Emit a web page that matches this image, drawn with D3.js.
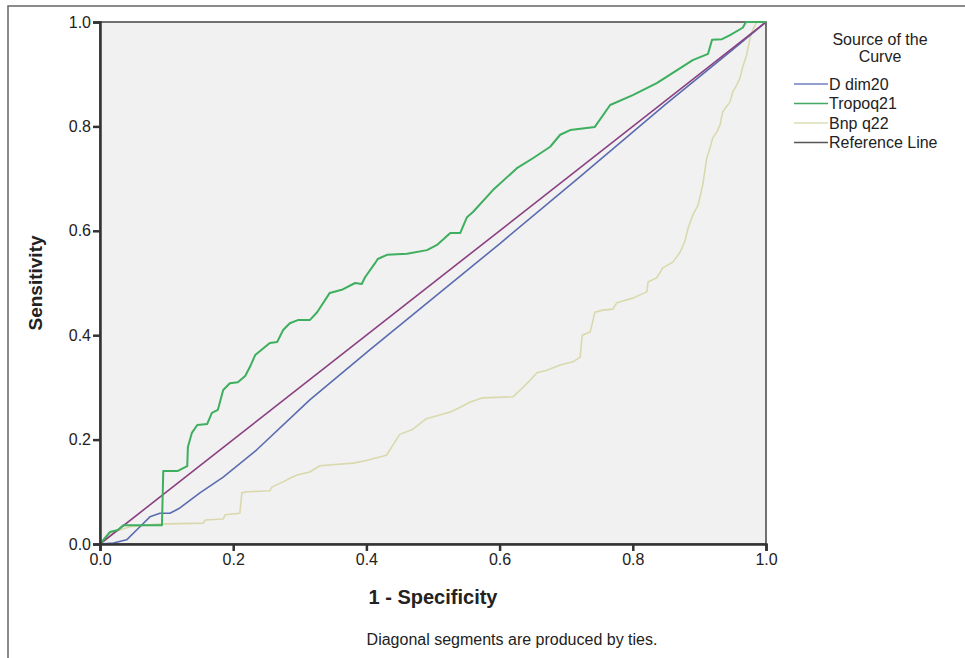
<!DOCTYPE html>
<html>
<head>
<meta charset="utf-8">
<script src="https://cdn.jsdelivr.net/npm/d3@7"></script>
<style>
  body { margin: 0; background: #fff; }
  text { font-family: "Liberation Sans", Arial, sans-serif; fill: #222; }
</style>
</head>
<body>
<div id="chart"></div>
<script>
// ROC curve points as [1 - specificity, sensitivity]
var ddim20 = [[0,0],[0.02,0.002],[0.04,0.008],[0.06,0.033],[0.075,0.052],[0.09,0.059],
    [0.105,0.059],[0.12,0.069],[0.15,0.098],[0.185,0.128],[0.235,0.18],[0.315,0.276],
    [0.405,0.372],[0.6,0.575],[0.72,0.703],[0.85,0.843],[0.95,0.947],[1,1]];

var tropoq21 = [[0,0],[0.015,0.023],[0.027,0.027],[0.035,0.036],[0.093,0.036],[0.095,0.14],
    [0.117,0.14],[0.131,0.149],[0.132,0.186],[0.138,0.213],[0.146,0.228],[0.161,0.23],
    [0.168,0.251],[0.177,0.257],[0.185,0.295],[0.195,0.308],[0.207,0.31],[0.218,0.322],
    [0.225,0.339],[0.233,0.362],[0.255,0.385],[0.266,0.387],[0.275,0.41],[0.285,0.423],
    [0.297,0.429],[0.315,0.429],[0.326,0.444],[0.345,0.481],[0.363,0.487],[0.383,0.5],
    [0.393,0.498],[0.398,0.511],[0.413,0.538],[0.417,0.546],[0.431,0.554],[0.461,0.556],
    [0.491,0.563],[0.506,0.573],[0.526,0.596],[0.541,0.596],[0.551,0.626],[0.56,0.636],
    [0.59,0.678],[0.626,0.72],[0.65,0.739],[0.676,0.761],[0.691,0.784],[0.706,0.793],
    [0.743,0.799],[0.766,0.841],[0.8,0.86],[0.836,0.883],[0.89,0.927],[0.913,0.939],
    [0.919,0.966],[0.934,0.967],[0.946,0.975],[0.965,0.989],[0.97,1],[1,1]];

var bnpq22 = [[0,0],[0.015,0.021],[0.03,0.027],[0.045,0.033],[0.086,0.038],[0.155,0.04],
    [0.158,0.046],[0.185,0.048],[0.188,0.056],[0.21,0.059],[0.213,0.098],[0.221,0.1],
    [0.255,0.102],[0.258,0.109],[0.275,0.119],[0.285,0.126],[0.296,0.132],[0.315,0.138],
    [0.33,0.15],[0.38,0.155],[0.4,0.16],[0.43,0.17],[0.44,0.19],[0.45,0.21],[0.47,0.22],
    [0.49,0.24],[0.526,0.253],[0.541,0.262],[0.556,0.272],[0.575,0.28],[0.62,0.282],
    [0.631,0.295],[0.643,0.31],[0.656,0.328],[0.671,0.333],[0.691,0.343],[0.71,0.349],
    [0.721,0.358],[0.724,0.4],[0.736,0.406],[0.743,0.444],[0.755,0.448],[0.77,0.45],
    [0.776,0.462],[0.8,0.471],[0.821,0.483],[0.823,0.502],[0.836,0.51],[0.845,0.529],
    [0.86,0.54],[0.871,0.559],[0.878,0.579],[0.883,0.605],[0.89,0.63],[0.898,0.649],
    [0.905,0.688],[0.911,0.739],[0.916,0.759],[0.92,0.778],[0.926,0.789],[0.931,0.803],
    [0.935,0.828],[0.946,0.847],[0.95,0.866],[0.956,0.879],[0.961,0.893],[0.965,0.914],
    [0.971,0.937],[0.976,0.969],[0.98,0.985],[0.986,1],[1,1]];

var referenceLine = [[0,0],[1,1]];

var seriesNames = ["D dim20", "Tropoq21", "Bnp q22", "Reference Line"];
var tickValues = [0, 0.2, 0.4, 0.6, 0.8, 1.0];

var width = 965, height = 658;
var margin = {left: 100, top: 22, right: 199, bottom: 114};

var svg = d3.select("#chart").append("svg")
    .attr("width", width)
    .attr("height", height);

// outer frame (top and left edges visible)
svg.append("path")
    .attr("d", "M8,658 L8,6 L965,6")
    .attr("fill", "none")
    .attr("stroke", "#666")
    .attr("stroke-width", 1.5);

var x = d3.scaleLinear().domain([0, 1]).range([margin.left, width - margin.right]);
var y = d3.scaleLinear().domain([0, 1]).range([height - margin.bottom, margin.top]);

svg.append("rect")
    .attr("x", x(0))
    .attr("y", y(1))
    .attr("width", x(1) - x(0))
    .attr("height", y(0) - y(1))
    .attr("fill", "#f1f1f1")
    .attr("stroke", "#444")
    .attr("stroke-width", 1.5);

var line = d3.line()
    .x(function(d) { return x(d[0]); })
    .y(function(d) { return y(d[1]); });

var colors = {"D dim20": "#5a6bb0", "Tropoq21": "#3daf5e", "Bnp q22": "#d9d9ad", "Reference Line": "#8a3f80"};
var legendColors = {"D dim20": "#6f7fbf", "Tropoq21": "#45a862", "Bnp q22": "#dcdcb8", "Reference Line": "#555"};

var seriesData = {"D dim20": ddim20, "Tropoq21": tropoq21, "Bnp q22": bnpq22, "Reference Line": referenceLine};

["Bnp q22", "D dim20", "Reference Line", "Tropoq21"].forEach(function(name) {
    svg.append("path")
        .datum(seriesData[name])
        .attr("d", line)
        .attr("fill", "none")
        .attr("stroke", colors[name])
        .attr("stroke-width", name == "Tropoq21" ? 2 : 1.6)
        .attr("stroke-linejoin", "round");
});

// axes
var xAxis = svg.append("g")
    .attr("transform", "translate(0," + y(0) + ")")
    .call(d3.axisBottom(x).tickValues(tickValues).tickFormat(d3.format(".1f")).tickSizeOuter(0).tickSize(7).tickPadding(3));

var yAxis = svg.append("g")
    .attr("transform", "translate(" + x(0) + ",0)")
    .call(d3.axisLeft(y).tickValues(tickValues).tickFormat(d3.format(".1f")).tickSizeOuter(0).tickSize(7).tickPadding(2));

[xAxis, yAxis].forEach(function(a) {
    a.select(".domain").attr("stroke", "#333").attr("stroke-width", 2.5);
    a.selectAll(".tick line").attr("stroke", "#333").attr("stroke-width", 2.5);
    a.selectAll(".tick text")
        .attr("font-family", "Liberation Sans, Arial, sans-serif")
        .attr("font-size", 16)
        .attr("fill", "#222");
});

svg.append("text")
    .attr("x", (x(0) + x(1)) / 2)
    .attr("y", 604)
    .attr("text-anchor", "middle")
    .attr("font-size", 20)
    .attr("font-weight", "bold")
    .text("1 - Specificity");

svg.append("text")
    .attr("transform", "translate(42," + ((y(0) + y(1)) / 2) + ") rotate(-90)")
    .attr("text-anchor", "middle")
    .attr("font-size", 19)
    .attr("font-weight", "bold")
    .text("Sensitivity");

svg.append("text")
    .attr("x", 512)
    .attr("y", 645)
    .attr("text-anchor", "middle")
    .attr("font-size", 16)
    .text("Diagonal segments are produced by ties.");

// legend
var legend = svg.append("g");
legend.append("text")
    .attr("x", 880).attr("y", 45)
    .attr("text-anchor", "middle")
    .attr("font-size", 16)
    .text("Source of the");
legend.append("text")
    .attr("x", 880).attr("y", 62)
    .attr("text-anchor", "middle")
    .attr("font-size", 16)
    .text("Curve");

var item = legend.selectAll(".item")
    .data(seriesNames)
    .enter()
    .append("g")
    .attr("transform", function(d, i) { return "translate(794," + (84 + i * 19.5) + ")"; });

item.append("line")
    .attr("x1", 0).attr("x2", 34)
    .attr("y1", 0).attr("y2", 0)
    .attr("stroke", function(d) { return legendColors[d]; })
    .attr("stroke-width", 1.6);

item.append("text")
    .attr("x", 35)
    .attr("y", 5.5)
    .attr("font-size", 16)
    .text(function(d) { return d; });
</script>
</body>
</html>
